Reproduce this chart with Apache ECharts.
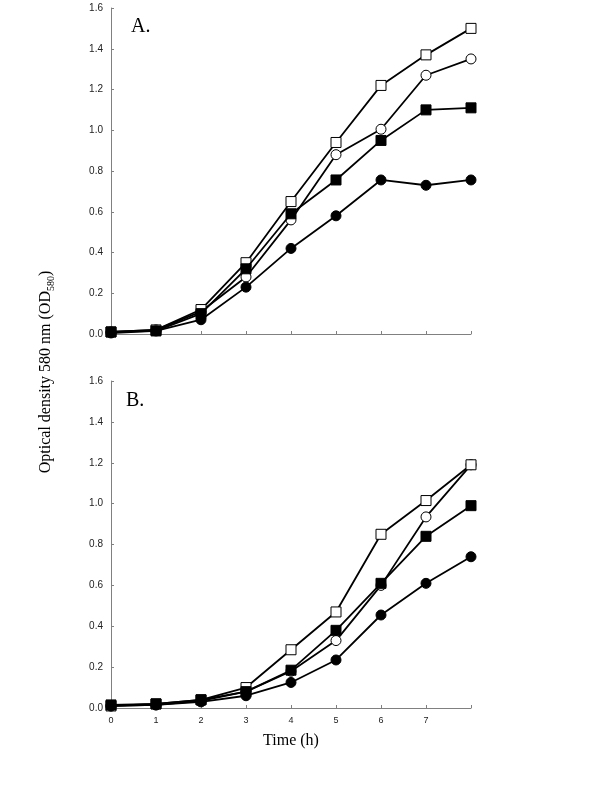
<!DOCTYPE html>
<html><head><meta charset="utf-8">
<script src="https://cdn.jsdelivr.net/npm/echarts@6/dist/echarts.min.js"></script>
<style>html,body{margin:0;padding:0;background:#fff}#c{width:600px;height:789px}</style>
</head><body><div id="c"></div>
<script>
const hours = [0,1,2,3,4,5,6,7,8];
const xTickLabels = ['0','1','2','3','4','5','6','7',''];
const yTickLabels = ['0.0','0.2','0.4','0.6','0.8','1.0','1.2','1.4','1.6'];
// Panel A
const A_openSquare   = [0.01,0.02,0.12,0.35,0.65,0.94,1.22,1.37,1.50];
const A_openCircle   = [0.01,0.02,0.11,0.28,0.56,0.88,1.005,1.27,1.35];
const A_filledSquare = [0.01,0.015,0.10,0.32,0.59,0.756,0.95,1.10,1.11];
const A_filledCircle = [0.005,0.015,0.07,0.23,0.42,0.58,0.756,0.73,0.756];
// Panel B
const B_openSquare   = [0.01,0.02,0.04,0.10,0.285,0.47,0.85,1.015,1.19];
const B_openCircle   = [0.01,0.015,0.035,0.08,0.18,0.33,0.60,0.935,1.19];
const B_filledSquare = [0.015,0.02,0.04,0.08,0.185,0.38,0.61,0.84,0.99];
const B_filledCircle = [0.01,0.015,0.03,0.06,0.125,0.235,0.455,0.61,0.74];

const chart = echarts.init(document.getElementById('c'), null, {renderer:'canvas'});
const pair = (ys) => hours.map((h,i)=>[h, ys[i]]);
function mk(name, ys, idx, symbol, filled, z){
  return {
    type:'line', name, xAxisIndex:idx, yAxisIndex:idx, data: pair(ys),
    symbol, symbolSize: symbol==='rect'? 10 : 10, showAllSymbol:true,
    lineStyle:{color:'#000', width:1.8},
    itemStyle:{color: filled ? '#000' : '#fff', borderColor:'#000', borderWidth:1},
    emphasis:{disabled:true}, animation:false, z
  };
}
const axisCommon = {
  axisLine:{show:true, lineStyle:{color:'#808080', width:1}},
  axisTick:{show:true, inside:true, length:3, lineStyle:{color:'#808080'}},
  splitLine:{show:false}
};
function xAx(idx, showLabels){
  return Object.assign({}, axisCommon, {
    gridIndex:idx, type:'value', min:0, max:8, interval:1,
    axisLabel:{show:showLabels, formatter:(v)=>xTickLabels[v], fontFamily:'Arial, Liberation Sans', fontSize:9, color:'#222', margin:8}
  });
}
function yAx(idx){
  return Object.assign({}, axisCommon, {
    gridIndex:idx, type:'value', min:0, max:1.6, interval:0.2,
    axisLabel:{formatter:(v)=>yTickLabels[Math.round(v/0.2)], fontFamily:'Arial, Liberation Sans', fontSize:10, color:'#222', margin:8}
  });
}
chart.setOption({
  backgroundColor:'#fff',
  animation:false,
  grid:[
    {left:111, top:8, width:360, height:326},
    {left:111, top:381, width:360, height:327}
  ],
  xAxis:[xAx(0,false), xAx(1,true)],
  yAxis:[yAx(0), yAx(1)],
  series:[
    mk('A open circle', A_openCircle, 0, 'circle', false, 2),
    mk('A open square', A_openSquare, 0, 'rect', false, 3),
    mk('A filled circle', A_filledCircle, 0, 'circle', true, 4),
    mk('A filled square', A_filledSquare, 0, 'rect', true, 5),
    mk('B open circle', B_openCircle, 1, 'circle', false, 2),
    mk('B open square', B_openSquare, 1, 'rect', false, 3),
    mk('B filled circle', B_filledCircle, 1, 'circle', true, 4),
    mk('B filled square', B_filledSquare, 1, 'rect', true, 5)
  ],
  graphic:[
    {type:'text', left:131, top:17, style:{text:'A.', font:'20px "Liberation Serif", "Times New Roman", serif', fill:'#000'}},
    {type:'text', left:126, top:391, style:{text:'B.', font:'20px "Liberation Serif", "Times New Roman", serif', fill:'#000'}},
    {type:'text', x:291, y:741, style:{text:'Time (h)', font:'16px "Liberation Serif", "Times New Roman", serif', fill:'#000', align:'center', verticalAlign:'middle'}},
    {type:'text', x:46, y:372, rotation:Math.PI/2,
      style:{
        text:'{m|Optical density 580 nm (OD}{s|580}{m|)}',
        align:'center', verticalAlign:'middle',
        rich:{
          m:{fontFamily:'"Liberation Serif", "Times New Roman", serif', fontSize:16, fill:'#000', lineHeight:20},
          s:{fontFamily:'"Liberation Serif", "Times New Roman", serif', fontSize:10, fill:'#000', verticalAlign:'bottom', lineHeight:14, padding:[8,0,0,0]}
        }
      }
    }
  ]
});
</script></body></html>
